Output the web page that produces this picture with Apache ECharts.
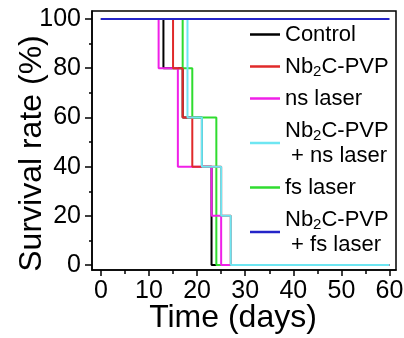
<!DOCTYPE html>
<html>
<head>
<meta charset="utf-8">
<style>
  html, body { margin: 0; padding: 0; background: #fff; }
  #chart { width: 404px; height: 338px; }
</style>
<script src="https://cdn.jsdelivr.net/npm/echarts@6/dist/echarts.min.js"></script>
</head>
<body>
<div id="chart"></div>
<script>
// 各组生存曲线 (天数, 存活率%)
var controlDays = [0, 13, 17, 21, 23, 60];
var controlRate = [100, 80, 60, 40, 0, 0];
var nbDays = [0, 15, 17, 19, 25, 27, 60];
var nbRate = [100, 80, 60, 40, 20, 0, 0];
var nsDays = [0, 12, 16, 23, 25, 60];
var nsRate = [100, 80, 40, 20, 0, 0];
var nbNsDays = [0, 18, 21, 25, 27, 60];
var nbNsRate = [100, 60, 40, 20, 0, 0];
var fsDays = [0, 17, 19, 24, 60];
var fsRate = [100, 80, 60, 0, 0];
var nbFsDays = [0, 60];
var nbFsRate = [100, 100];

var names = ['Control', 'Nb2C-PVP', 'ns laser', 'Nb2C-PVP + ns laser', 'fs laser', 'Nb2C-PVP + fs laser'];
var xMajor = [0, 10, 20, 30, 40, 50, 60];
var xMinor = [5, 15, 25, 35, 45, 55];
var yMajor = [0, 20, 40, 60, 80, 100];
var yMinor = [10, 30, 50, 70, 90];

function pairs(xs, ys) {
    var out = [];
    for (var i = 0; i < xs.length; i++) {
        out.push([xs[i], ys[i]]);
    }
    return out;
}

function stepLine(name, xs, ys, color) {
    return {
        name: name,
        type: 'line',
        step: 'end',
        symbol: 'none',
        color: color,
        lineStyle: { width: 2, color: color },
        data: pairs(xs, ys)
    };
}

var legendText = {
    'Control': 'Control',
    'Nb2C-PVP': 'Nb{sub|2}C-PVP',
    'ns laser': 'ns laser',
    'Nb2C-PVP + ns laser': 'Nb{sub|2}C-PVP\n + ns laser',
    'fs laser': 'fs laser',
    'Nb2C-PVP + fs laser': 'Nb{sub|2}C-PVP\n + fs laser'
};

var fontName = 'Liberation Sans, Arial, sans-serif';
var myChart = echarts.init(document.getElementById('chart'));

var option = {
    animation: false,
    backgroundColor: '#fff',
    grid: {
        left: 92,
        right: 8,
        top: 11,
        bottom: 68,
        outerBoundsMode: 'none',
        show: true,
        borderColor: '#000',
        borderWidth: 1.5
    },
    legend: {
        data: names,
        orient: 'vertical',
        left: 245,
        top: 17,
        itemWidth: 30,
        itemHeight: 2.5,
        itemGap: 7,
        icon: 'rect',
        textStyle: {
            fontFamily: fontName,
            fontSize: 22,
            color: '#000',
            lineHeight: 25,
            rich: {
                sub: { fontSize: 15, lineHeight: 14, verticalAlign: 'bottom', fontFamily: fontName, color: '#000' }
            }
        },
        formatter: function (name) {
            return legendText[name];
        }
    },
    xAxis: [{
        type: 'value',
        min: -1.85,
        max: 61.35,
        name: 'Time (days)',
        nameLocation: 'middle',
        nameGap: 32,
        nameMoveOverlap: false,
        nameTextStyle: { fontFamily: fontName, fontSize: 32, color: '#000', padding: [0, 22, 0, 0] },
        splitLine: { show: false },
        axisLine: { show: true, onZero: false, lineStyle: { color: '#000', width: 1.5 } },
        axisTick: { show: true, customValues: xMajor, length: 6, lineStyle: { color: '#000', width: 1.5 } },
        axisLabel: { customValues: xMajor, fontFamily: fontName, fontSize: 25, color: '#000', margin: 9 }
    }, {
        type: 'value',
        min: -1.85,
        max: 61.35,
        position: 'bottom',
        splitLine: { show: false },
        axisLine: { show: false, onZero: false },
        axisTick: { show: true, customValues: xMinor, length: 4, lineStyle: { color: '#000', width: 1.5 } },
        axisLabel: { show: false }
    }],
    yAxis: [{
        type: 'value',
        min: -2,
        max: 103.25,
        name: 'Survival rate (%)',
        nameLocation: 'middle',
        nameGap: 44,
        nameMoveOverlap: false,
        nameTextStyle: { fontFamily: fontName, fontSize: 32, color: '#000', padding: [0, 26, 0, 0] },
        splitLine: { show: false },
        axisLine: { show: true, onZero: false, lineStyle: { color: '#000', width: 1.5 } },
        axisTick: { show: true, customValues: yMajor, length: 7, lineStyle: { color: '#000', width: 1.5 } },
        axisLabel: { customValues: yMajor, fontFamily: fontName, fontSize: 25, color: '#000', margin: 11 }
    }, {
        type: 'value',
        min: -2,
        max: 103.25,
        position: 'left',
        splitLine: { show: false },
        axisLine: { show: false, onZero: false },
        axisTick: { show: true, customValues: yMinor, length: 3, lineStyle: { color: '#000', width: 1.5 } },
        axisLabel: { show: false }
    }],
    // 绘制顺序: 黑, 绿, 品红, 红, 青, 蓝
    series: [
        stepLine('Control', controlDays, controlRate, '#000000'),
        stepLine('fs laser', fsDays, fsRate, '#2fdc2f'),
        stepLine('ns laser', nsDays, nsRate, '#f020e8'),
        stepLine('Nb2C-PVP', nbDays, nbRate, '#e02a2a'),
        stepLine('Nb2C-PVP + ns laser', nbNsDays, nbNsRate, '#6ee6f2'),
        stepLine('Nb2C-PVP + fs laser', nbFsDays, nbFsRate, '#2424c8')
    ]
};

myChart.setOption(option);
</script>
</body>
</html>
